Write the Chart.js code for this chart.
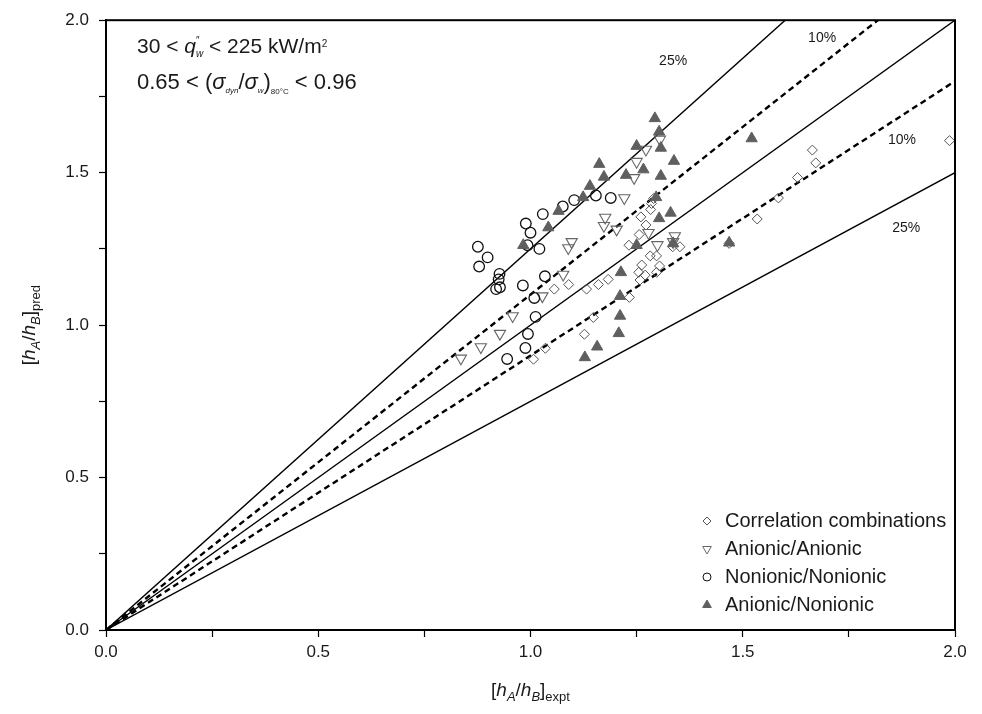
<!DOCTYPE html>
<html><head><meta charset="utf-8">
<script src="https://cdn.jsdelivr.net/npm/chart.js@4"></script>
<style>html,body{margin:0;padding:0;background:#fff}#wrap{width:982px;height:714px;position:relative}</style>
</head><body><div id="wrap"><canvas id="c"></canvas></div>
<script>
// ---- data ----
const correlationX = [1.232,1.282,1.297,1.335,1.352,1.262,1.304,1.255,1.270,1.258,1.297,1.183,1.160,1.132,1.090,1.233,1.148,1.127,1.290,1.285,1.283,1.260,1.272,1.256,1.987,1.664,1.672,1.629,1.584,1.534,1.468,1.035,1.007,1.056];
const correlationY = [1.262,1.227,1.227,1.257,1.257,1.197,1.194,1.173,1.164,1.148,1.173,1.150,1.133,1.118,1.133,1.091,1.025,0.970,1.415,1.399,1.379,1.355,1.328,1.297,1.605,1.574,1.532,1.484,1.417,1.348,1.268,0.924,0.888,1.118];
const anionicX = [0.958,0.928,0.883,0.836,1.028,1.097,1.089,1.077,1.305,1.272,1.250,1.244,1.221,1.176,1.173,1.203,1.278,1.299,1.340,1.336];
const anionicY = [1.030,0.972,0.928,0.891,1.095,1.273,1.253,1.166,1.609,1.576,1.536,1.483,1.417,1.353,1.326,1.314,1.303,1.263,1.292,1.273];
const nonionicX = [0.876,0.899,0.879,0.927,0.925,0.919,0.928,0.989,1.000,1.029,0.993,1.021,0.982,1.034,1.009,1.012,1.076,1.103,1.154,1.189,0.994,0.988,0.945];
const nonionicY = [1.257,1.222,1.192,1.168,1.150,1.118,1.124,1.333,1.303,1.364,1.262,1.250,1.130,1.160,1.089,1.027,1.389,1.410,1.425,1.417,0.971,0.925,0.889];
const mixedX = [1.293,1.303,1.307,1.250,1.162,1.173,1.225,1.266,1.338,1.307,1.140,1.124,1.296,1.303,1.330,1.250,1.336,1.066,1.042,0.983,1.213,1.211,1.211,1.208,1.157,1.128,1.521,1.468];
const mixedY = [1.678,1.634,1.581,1.587,1.528,1.486,1.492,1.510,1.538,1.489,1.456,1.419,1.419,1.350,1.368,1.262,1.268,1.374,1.320,1.262,1.173,1.095,1.030,0.973,0.929,0.894,1.612,1.270];
const seriesLabels = ['Correlation combinations','Anionic/Anionic','Nonionic/Nonionic','Anionic/Nonionic'];
// reference lines y = k x
const refSlopes = [1.25, 1.10, 1.00, 0.90, 0.75];
const refDashed = [false, true, false, true, false];
// percentage labels [text, x, y]
const refLabels = [['25%',1.336,1.866],['10%',1.687,1.94],['10%',1.875,1.607],['25%',1.885,1.318]];
const axisMin = 0, axisMax = 2, tickStep = 0.25, labelStep = 0.5;

const FONT = '"Liberation Sans", Arial, Helvetica, sans-serif';
const pts = (xs, ys) => xs.map((x, i) => ({x, y: ys[i]}));

const refDatasets = refSlopes.map((k, i) => ({
  type: 'scatter', showLine: true, label: 'ref' + i,
  data: [{x: axisMin, y: axisMin * k}, {x: axisMax, y: axisMax * k}],
  borderColor: '#000', borderWidth: refDashed[i] ? 2.4 : 1.4,
  borderDash: refDashed[i] ? [6, 4] : [], pointRadius: 0, order: 10
}));

const markerSets = [
  {label: seriesLabels[0], data: pts(correlationX, correlationY), pointStyle: 'rectRot', pointRadius: 5,
   backgroundColor: 'rgba(255,255,255,0)', borderColor: '#555', pointBorderWidth: 1, order: 4},
  {label: seriesLabels[1], data: pts(anionicX, anionicY), pointStyle: 'triangle', rotation: 180, pointRadius: 6.5,
   backgroundColor: 'rgba(255,255,255,0)', borderColor: '#666', pointBorderWidth: 1.1, order: 3},
  {label: seriesLabels[2], data: pts(nonionicX, nonionicY), pointStyle: 'circle', pointRadius: 5.3,
   backgroundColor: 'rgba(255,255,255,0)', borderColor: '#111', pointBorderWidth: 1.3, order: 2},
  {label: seriesLabels[3], data: pts(mixedX, mixedY), pointStyle: 'triangle', rotation: 0, pointRadius: 6.5,
   backgroundColor: '#5f5f5f', borderColor: '#5f5f5f', pointBorderWidth: 1, order: 1}
].map(d => Object.assign({type: 'scatter', showLine: false, pointHoverRadius: d.pointRadius}, d));

function drawRich(ctx, x, y, segs) {
  let cx = x;
  segs.forEach(s => {
    ctx.font = (s.i ? 'italic ' : '') + s.s + 'px ' + FONT;
    const w = ctx.measureText(s.t).width;
    ctx.fillText(s.t, cx, y + (s.dy || 0));
    if (!s.stack) cx += w + (s.gap || 0);
  });
  return cx;
}
function richWidth(ctx, segs) {
  let w = 0;
  segs.forEach(s => { ctx.font = (s.i ? 'italic ' : '') + s.s + 'px ' + FONT; if (!s.stack) w += ctx.measureText(s.t).width + (s.gap || 0); });
  return w;
}

const titleSegs = sub => [
  {t: '[', s: 19}, {t: 'h', s: 19, i: 1}, {t: 'A', s: 13, i: 1, dy: 5}, {t: '/', s: 19},
  {t: 'h', s: 19, i: 1}, {t: 'B', s: 13, i: 1, dy: 5}, {t: ']', s: 19}, {t: sub, s: 13, dy: 5}
];

const decor = {
  id: 'decor',
  afterDraw(chart) {
    const {ctx, chartArea: a, scales: {x, y}} = chart;
    ctx.save();
    ctx.strokeStyle = '#000'; ctx.lineWidth = 2;
    ctx.strokeRect(a.left, a.top, a.right - a.left, a.bottom - a.top);
    ctx.fillStyle = '#1a1a1a';
    ctx.textBaseline = 'alphabetic'; ctx.textAlign = 'left';
    // condition texts
    drawRich(ctx, 137, 53, [
      {t: '30 < ', s: 21}, {t: 'q', s: 21, i: 1}, {t: '\u2033', s: 10, dy: -9, stack: 1}, {t: 'w', s: 10, i: 1, dy: 4},
      {t: ' < 225 kW/m', s: 21}, {t: '2', s: 10, dy: -6}
    ]);
    drawRich(ctx, 137, 89, [
      {t: '0.65 < (', s: 22}, {t: '\u03C3', s: 22, i: 1}, {t: 'dyn', s: 8, i: 1, dy: 4}, {t: '/', s: 22},
      {t: '\u03C3', s: 22, i: 1}, {t: 'w', s: 8, i: 1, dy: 4}, {t: ')', s: 22}, {t: '80\u00B0C', s: 8, dy: 5},
      {t: ' < 0.96', s: 22}
    ]);
    // percent labels
    ctx.font = '14px ' + FONT; ctx.textAlign = 'center'; ctx.textBaseline = 'middle';
    refLabels.forEach(l => ctx.fillText(l[0], x.getPixelForValue(l[1]), y.getPixelForValue(l[2])));
    // axis titles
    ctx.textAlign = 'left'; ctx.textBaseline = 'alphabetic';
    const bs = titleSegs('expt');
    const bw = richWidth(ctx, bs);
    drawRich(ctx, (a.left + a.right) / 2 - bw / 2, 696, bs);
    ctx.save();
    ctx.translate(35, (a.top + a.bottom) / 2); ctx.rotate(-Math.PI / 2);
    const ls = titleSegs('pred');
    drawRich(ctx, -richWidth(ctx, ls) / 2, 0, ls);
    ctx.restore();
    // legend
    const lx = 707, tx = 725, ly0 = 521, dly = 28;
    markerSets.forEach((d, i) => {
      const cy = ly0 + i * dly;
      ctx.beginPath();
      const r = 4;
      if (d.pointStyle === 'rectRot') {
        ctx.moveTo(lx, cy - r); ctx.lineTo(lx + r, cy); ctx.lineTo(lx, cy + r); ctx.lineTo(lx - r, cy); ctx.closePath();
      } else if (d.pointStyle === 'circle') {
        ctx.arc(lx, cy, r, 0, Math.PI * 2);
      } else {
        const s = d.rotation === 180 ? -1 : 1, rr = 5;
        ctx.moveTo(lx, cy - s * rr); ctx.lineTo(lx + rr * 0.866, cy + s * rr / 2); ctx.lineTo(lx - rr * 0.866, cy + s * rr / 2); ctx.closePath();
      }
      if (d.backgroundColor !== 'rgba(255,255,255,0)') { ctx.fillStyle = d.backgroundColor; ctx.fill(); }
      ctx.strokeStyle = d.borderColor; ctx.lineWidth = 1; ctx.stroke();
      ctx.fillStyle = '#1a1a1a'; ctx.font = '20px ' + FONT; ctx.textBaseline = 'middle';
      ctx.fillText(d.label, tx, cy);
    });
    ctx.restore();
  }
};

const tickCb = v => (Math.abs(v / labelStep - Math.round(v / labelStep)) < 1e-6 ? v.toFixed(1) : '');
const tickFont = {family: FONT, size: 17};
const axis = (extra) => Object.assign({
  type: 'linear', min: axisMin, max: axisMax,
  grid: {drawOnChartArea: false, drawTicks: true, tickLength: 7, tickColor: '#000', tickWidth: 1.2},
  border: {display: true, color: '#000', width: 2},
  title: {display: false}
}, extra);

new Chart(document.getElementById('c'), {
  type: 'scatter',
  data: {datasets: [...markerSets, ...refDatasets]},
  options: {
    responsive: true, maintainAspectRatio: false, animation: false,
    layout: {padding: {left: 0, right: 27, top: 20, bottom: 0}},
    plugins: {legend: {display: false}, tooltip: {enabled: false}},
    scales: {
      x: axis({position: 'bottom', ticks: {stepSize: tickStep, callback: tickCb, color: '#1a1a1a', font: tickFont, autoSkip: false, maxRotation: 0, padding: 5},
        afterFit: s => { s.height = 84; }}),
      y: axis({position: 'left', ticks: {stepSize: tickStep, callback: tickCb, color: '#1a1a1a', font: tickFont, autoSkip: false, padding: 10},
        afterFit: s => { s.width = 106; }})
    }
  },
  plugins: [decor]
});
</script></body></html>
